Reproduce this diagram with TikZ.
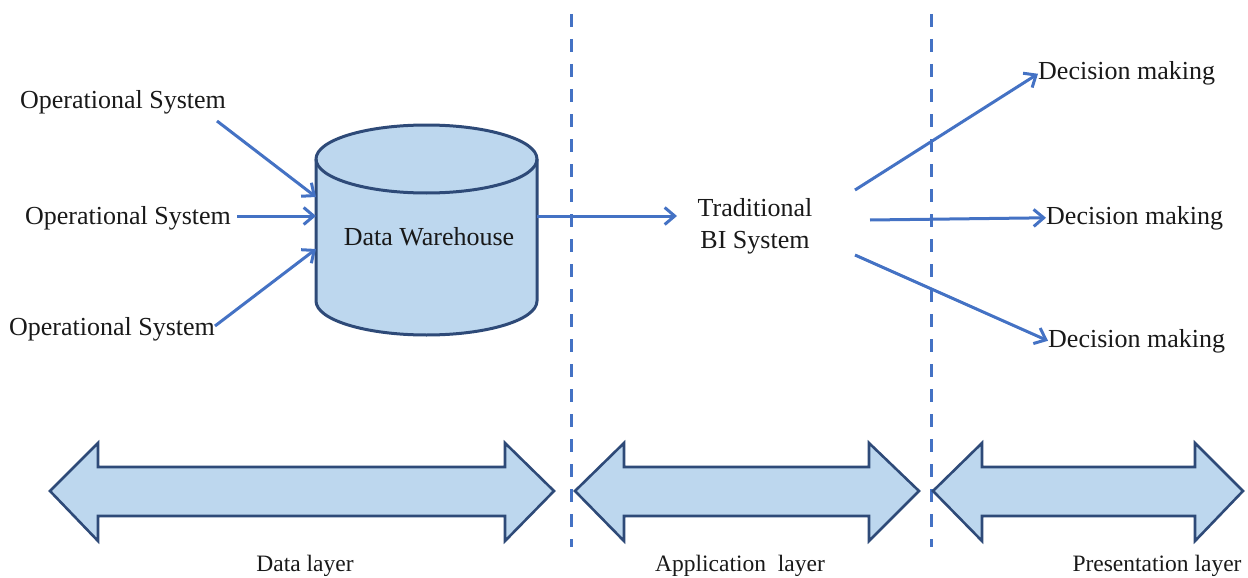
\documentclass[tikz,border=0pt]{standalone}
\usepackage{fontspec}
\setmainfont{Liberation Serif}
\usetikzlibrary{arrows.meta}
\definecolor{lineblue}{HTML}{4472C4}
\definecolor{fillblue}{HTML}{BDD7EE}
\definecolor{navy}{HTML}{2E4A78}
\begin{document}
\begin{tikzpicture}[x=1pt,y=-1pt,
  lbl/.style={font=\fontsize{26}{30}\selectfont, inner sep=0pt, text=black!90},
  layer/.style={font=\fontsize{23.5}{28}\selectfont, inner sep=0pt, text=black!90},
  flow/.style={lineblue, line width=3pt, -{Straight Barb[length=10pt,width=17pt,line width=3pt]}},
  divider/.style={lineblue, line width=3pt, dash pattern=on 13pt off 12pt},
  dbl/.style={draw=navy, fill=fillblue, line width=2.6pt, line join=miter},
  cyl/.style={draw=navy, fill=fillblue, line width=3pt}]
\useasboundingbox (0,0) rectangle (1248,578);

% dividers
\draw[divider] (571,14) -- (571,547);
\draw[divider] (931,14) -- (931,547);

% cylinder
\draw[cyl] (316,159) -- (316,301) arc[start angle=180,end angle=360,x radius=110.5pt,y radius=34pt]
  -- (537,159) arc[start angle=0,end angle=180,x radius=110.5pt,y radius=34pt] -- cycle;
\draw[cyl, fill=none] (316,159) arc[start angle=180,end angle=360,x radius=110.5pt,y radius=34pt];
\node[lbl] (dw) at (429,237) {Data Warehouse};

% sources
\node[lbl, anchor=base] (os1) at (123,108) {Operational System};
\node[lbl, anchor=base] (os2) at (128,224) {Operational System};
\node[lbl, anchor=base] (os3) at (112,335) {Operational System};
\coordinate (os1e) at (217,121);
\coordinate (os2e) at (237,216);
\coordinate (os3e) at (215,326);
\coordinate (dwin1) at (316,197);
\coordinate (dwin2) at (316,216);
\coordinate (dwin3) at (316,249);
\draw[flow] (os1e) -- (dwin1);
\draw[flow] (os2e) -- (dwin2);
\draw[flow] (os3e) -- (dwin3);

% BI system
\node[lbl, align=center] (bi) at (755,226) {Traditional\\[2pt]BI System};
\coordinate (dwout) at (537,216);
\coordinate (biin) at (677,216);
\draw[flow] (dwout) -- (biin);

% decisions
\node[lbl, anchor=base west] (dm1) at (1038,80) {Decision making};
\node[lbl, anchor=base west] (dm2) at (1046,224) {Decision making};
\node[lbl, anchor=base west] (dm3) at (1048,347) {Decision making};
\coordinate (bi1) at (855,190);
\coordinate (bi2) at (870,220);
\coordinate (bi3) at (855,255);
\draw[flow] (bi1) -- (dm1.west);
\draw[flow] (bi2) -- (dm2.west);
\draw[flow] (bi3) -- (dm3.west);

% layer arrows
\draw[dbl] (50,491) -- (98,443) -- (98,467) -- (505,467) -- (505,443) -- (554,491)
  -- (505,541) -- (505,516) -- (98,516) -- (98,541) -- cycle;
\draw[dbl] (575,491) -- (624,443) -- (624,467) -- (869,467) -- (869,443) -- (919,491)
  -- (869,541) -- (869,516) -- (624,516) -- (624,541) -- cycle;
\draw[dbl] (933,491) -- (982,443) -- (982,467) -- (1195,467) -- (1195,443) -- (1243,491)
  -- (1195,541) -- (1195,516) -- (982,516) -- (982,541) -- cycle;

\node[layer, anchor=base] (l1) at (305,571) {Data layer};
\node[layer, anchor=base] (l2) at (740,571) {Application\ \ layer};
\node[layer, anchor=base] (l3) at (1157,571) {Presentation layer};
\end{tikzpicture}
\end{document}
